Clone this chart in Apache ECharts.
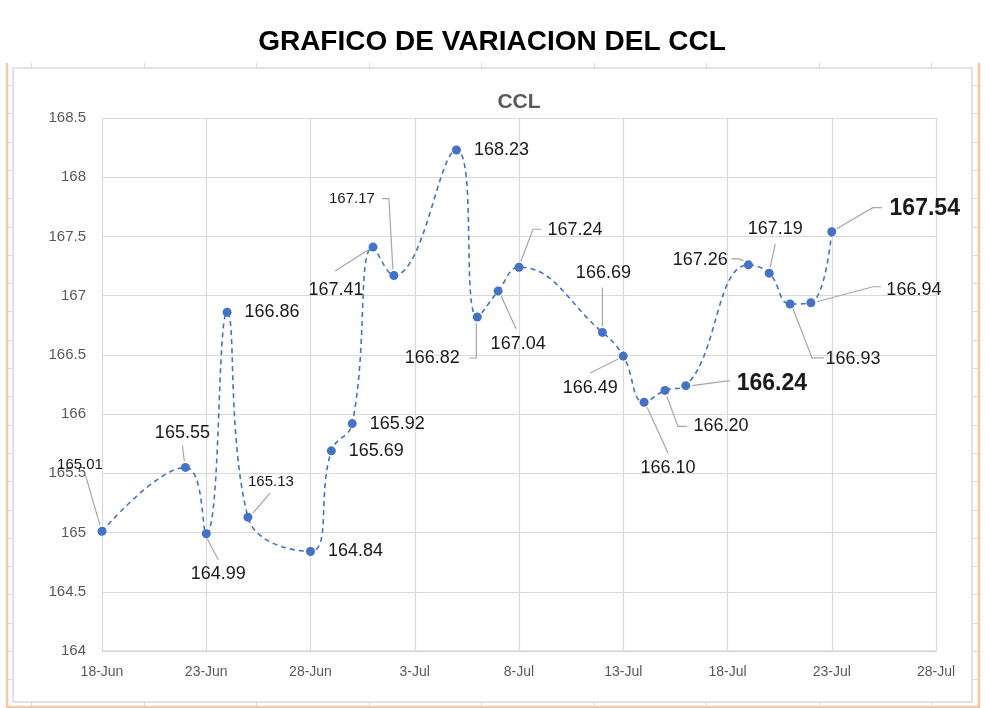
<!DOCTYPE html>
<html>
<head>
<meta charset="utf-8">
<script src="https://cdn.jsdelivr.net/npm/echarts@6/dist/echarts.min.js"></script>
<style>
html,body{margin:0;padding:0;background:#fff;}
#c{width:984px;height:708px;}
</style>
</head>
<body>
<div id="c"></div>
<script>
// ---- data ----
const dates = ['2021-06-18','2021-06-22','2021-06-23','2021-06-24','2021-06-25','2021-06-28','2021-06-29','2021-06-30',
  '2021-07-01','2021-07-02','2021-07-05','2021-07-06','2021-07-07','2021-07-08','2021-07-12','2021-07-13',
  '2021-07-14','2021-07-15','2021-07-16','2021-07-19','2021-07-20','2021-07-21','2021-07-22','2021-07-23'];
const ccl = [165.01,165.55,164.99,166.86,165.13,164.84,165.69,165.92,
  167.41,167.17,168.23,166.82,167.04,167.24,166.69,166.49,
  166.10,166.20,166.24,167.26,167.19,166.93,166.94,167.54];
const startDate = '2021-06-18';
const endDate = '2021-07-28';
const monthNames = ['Jan','Feb','Mar','Apr','May','Jun','Jul','Aug','Sep','Oct','Nov','Dec'];
const mainTitle = 'GRAFICO DE VARIACION DEL CCL';
const chartTitle = 'CCL';

// ---- layout (label placement relative to the marker centre, in px) ----
// [dx, dy, style, leaderPoints]
const labelPlace = [
  [-22,-67,'s',[[-2,-6],[-17,-58]]],
  [-3,-34,'n',[[-1,-6],[-3,-22]]],
  [12,40,'n',[[1,5],[12,26]]],
  [45,0,'n',null],
  [23,-35,'s',[[5,-4],[22,-24]]],
  [45,0,'n',null],
  [45,0,'n',null],
  [45,0,'n',null],
  [-37,43,'n',[[-5,3],[-38,24]]],
  [-42,-77,'s',[[-1,-6],[-5,-77],[-12,-77]]],
  [45,0,'n',null],
  [-45,41,'n',[[-1,6],[-1,41],[-8,41]]],
  [20,53,'n',[[3,5],[18,38]]],
  [56,-37,'n',[[2,-6],[14,-38],[22,-38]]],
  [1,-59,'n',[[0,-6],[0,-45]]],
  [-33,32,'n',[[-5,3],[-33,17]]],
  [24,66,'n',[[3,5],[24,51]]],
  [56,36,'n',[[2,6],[13,36],[22,36]]],
  [86,-2,'b',[[6,0],[44,-5]]],
  [-48,-5,'n',[[-5,-4],[-9,-6],[-17,-6]]],
  [6,-44,'n',[[1,-6],[6,-29]]],
  [63,55,'n',[[3,5],[22,54],[34,54]]],
  [103,-13,'n',[[6,-1],[62,-16],[70,-16]]],
  [93,-23,'b',[[5,-3],[41,-24],[50,-24]]]
];

const DAY = 86400000;
const t0 = Date.parse(startDate + 'T00:00:00Z');
const dayOf = s => Math.round((Date.parse(s + 'T00:00:00Z') - t0) / DAY);
const fontFam = '"Liberation Sans", Arial, sans-serif';

const seriesData = dates.map((d, i) => {
  const st = labelPlace[i][2];
  const item = { value: [dayOf(d), ccl[i]] };
  item.label = st === 'b' ? { fontSize: 23, fontWeight: 'bold' }
             : st === 's' ? { fontSize: 15 } : { fontSize: 18 };
  return item;
});

const chart = echarts.init(document.getElementById('c'), null, { renderer: 'canvas' });

// decorative spreadsheet frame
const graphics = [];
const orange = '#F4C7A6', light = '#DADADA';
graphics.push({ type: 'line', shape: { x1: 7, y1: 63, x2: 7, y2: 707 }, style: { stroke: orange, lineWidth: 2.5 }, silent: true });
graphics.push({ type: 'line', shape: { x1: 979, y1: 63, x2: 979, y2: 707 }, style: { stroke: orange, lineWidth: 2.5 }, silent: true });
graphics.push({ type: 'line', shape: { x1: 6, y1: 707, x2: 980, y2: 707 }, style: { stroke: orange, lineWidth: 2.5 }, silent: true });
for (let y = 85; y < 700; y += 28.3) {
  graphics.push({ type: 'line', shape: { x1: 8, y1: Math.round(y) + 0.5, x2: 13, y2: Math.round(y) + 0.5 }, style: { stroke: light, lineWidth: 1 }, silent: true });
  graphics.push({ type: 'line', shape: { x1: 972, y1: Math.round(y) + 0.5, x2: 978, y2: Math.round(y) + 0.5 }, style: { stroke: light, lineWidth: 1 }, silent: true });
}
for (let x = 31; x < 972; x += 112.5) {
  graphics.push({ type: 'line', shape: { x1: Math.round(x) + 0.5, y1: 63, x2: Math.round(x) + 0.5, y2: 68 }, style: { stroke: light, lineWidth: 1 }, silent: true });
  graphics.push({ type: 'line', shape: { x1: Math.round(x) + 0.5, y1: 702, x2: Math.round(x) + 0.5, y2: 707 }, style: { stroke: light, lineWidth: 1 }, silent: true });
}
graphics.push({ type: 'rect', shape: { x: 13, y: 68, width: 959, height: 634 }, style: { fill: 'none', stroke: '#D9D9D9', lineWidth: 1.5 }, silent: true });

chart.setOption({
  animation: false,
  backgroundColor: '#fff',
  title: [
    { text: mainTitle, left: 'center', top: 28, padding: 0,
      textStyle: { fontFamily: fontFam, fontSize: 28, fontWeight: 'bold', color: '#000' } },
    { text: chartTitle, left: 519, textAlign: 'center', top: 92, padding: 0,
      textStyle: { fontFamily: fontFam, fontSize: 21, fontWeight: 'bold', color: '#595959' } }
  ],
  graphic: graphics,
  grid: { left: 102, right: 48, top: 118, bottom: 57, containLabel: false },
  xAxis: {
    type: 'value', min: 0, max: dayOf(endDate), interval: 5,
    axisLine: { show: true, lineStyle: { color: '#D9D9D9', width: 1.5 } },
    axisTick: { show: false },
    splitLine: { show: true, lineStyle: { color: '#D9D9D9', width: 1.2 } },
    axisLabel: {
      color: '#595959', fontFamily: fontFam, fontSize: 14, margin: 14,
      formatter: v => { const d = new Date(t0 + v * DAY); return d.getUTCDate() + '-' + monthNames[d.getUTCMonth()]; }
    }
  },
  yAxis: {
    type: 'value', min: 164, max: 168.5, interval: 0.5,
    axisLine: { show: false }, axisTick: { show: false },
    splitLine: { show: true, lineStyle: { color: '#D9D9D9', width: 1.2 } },
    axisLabel: { color: '#595959', fontFamily: fontFam, fontSize: 15, margin: 16,
      formatter: v => String(+v.toFixed(1)) }
  },
  series: [{
    type: 'line',
    data: seriesData,
    smooth: 0.45,
    z: 3,
    symbol: 'circle', symbolSize: 9,
    itemStyle: { color: '#4472C4' },
    lineStyle: { color: '#4472C4', width: 1.6, type: [5, 4] },
    label: {
      show: true, position: 'inside', color: '#1a1a1a', fontFamily: fontFam,
      formatter: p => p.value[1].toFixed(2)
    },
    labelLine: { show: false },
    labelLayout: function (p) {
      const o = labelPlace[p.dataIndex];
      const cx = p.rect.x + p.rect.width / 2, cy = p.rect.y + p.rect.height / 2;
      return { x: cx + o[0], y: cy + o[1], align: 'center', verticalAlign: 'middle', hideOverlap: false };
    }
  }]
});

// leader lines, anchored to the markers through the chart's own scales
const leaders = [];
seriesData.forEach((item, i) => {
  const pts = labelPlace[i][3];
  if (!pts) return;
  const c = chart.convertToPixel({ seriesIndex: 0 }, item.value);
  leaders.push({
    type: 'polyline', z: 1, silent: true,
    shape: { points: pts.map(q => [c[0] + q[0], c[1] + q[1]]) },
    style: { stroke: '#A6A6A6', lineWidth: 1.2, fill: null }
  });
});
chart.setOption({ graphic: graphics.concat(leaders) });
</script>
</body>
</html>
